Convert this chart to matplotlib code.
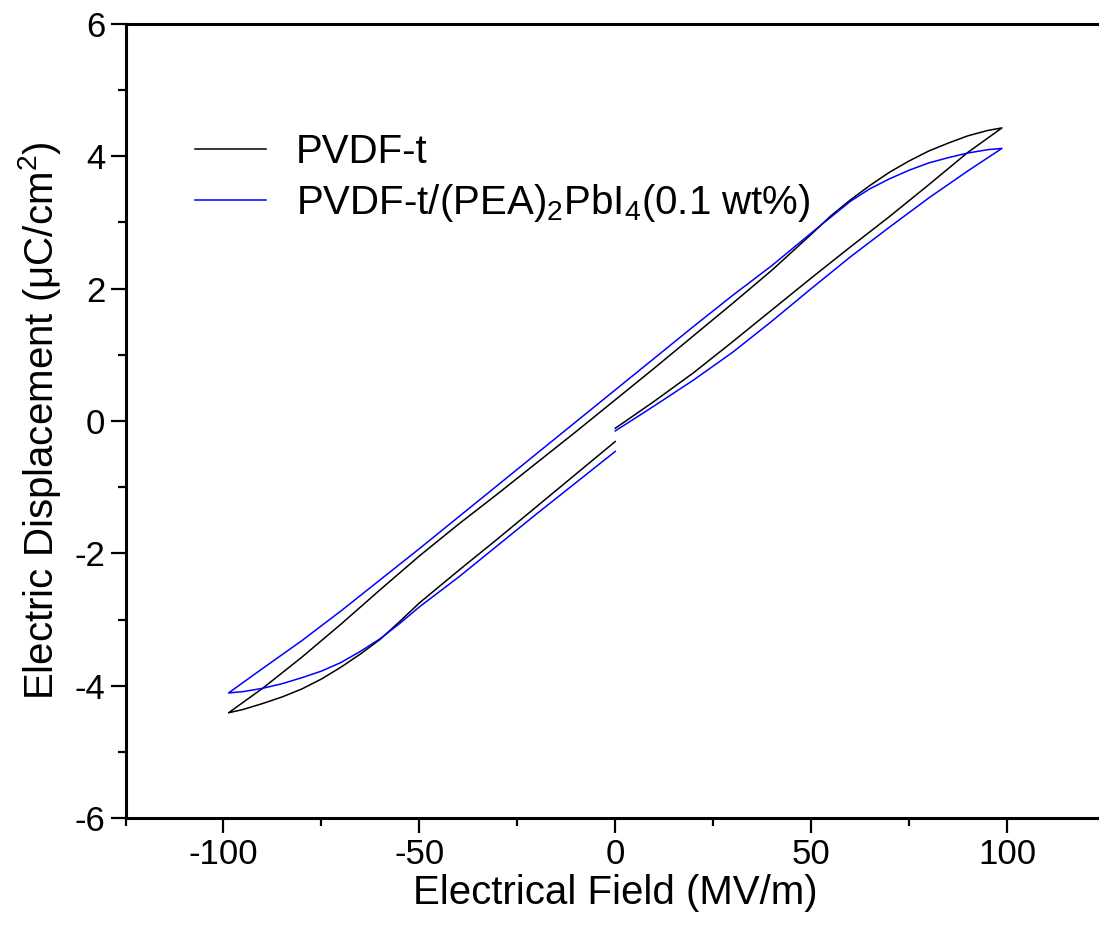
import matplotlib
matplotlib.use("Agg")
import matplotlib.pyplot as plt
from matplotlib.ticker import MultipleLocator

# ---- data ----
# PVDF-t: initial rise, descending branch, returning branch
black_up_x = [0, 10, 20, 30, 40, 50, 60, 70, 80, 90, 98.7]
black_up_y = [-0.11, 0.30, 0.73, 1.20, 1.68, 2.16, 2.63, 3.09, 3.57, 4.06, 4.43]
black_down_x = [98.7, 95, 90, 85, 80, 75, 70, 65, 60, 55, 50, 40, 30, 20, 10, 0,
                -10, -20, -30, -40, -50, -60, -70, -80, -90, -98.7]
black_down_y = [4.43, 4.39, 4.31, 4.20, 4.08, 3.93, 3.76, 3.56, 3.34, 3.10, 2.82,
                2.28, 1.78, 1.29, 0.80, 0.32, -0.16, -0.63, -1.10, -1.56, -2.04,
                -2.55, -3.07, -3.57, -4.04, -4.41]
black_ret_x = [-98.7, -95, -90, -85, -80, -75, -70, -65, -60, -55, -50, -40, -30,
               -20, -10, 0]
black_ret_y = [-4.41, -4.36, -4.27, -4.17, -4.05, -3.90, -3.72, -3.52, -3.30, -3.03,
               -2.75, -2.26, -1.78, -1.29, -0.80, -0.31]

# PVDF-t/(PEA)2PbI4 (0.1 wt%)
blue_up_x = [0, 10, 20, 30, 40, 50, 60, 70, 80, 90, 98.7]
blue_up_y = [-0.15, 0.23, 0.62, 1.04, 1.51, 2.00, 2.48, 2.93, 3.37, 3.78, 4.12]
blue_down_x = [98.7, 95, 90, 85, 80, 75, 70, 65, 60, 55, 50, 40, 30, 20, 10, 0,
               -10, -20, -30, -40, -50, -60, -70, -80, -90, -98.7]
blue_down_y = [4.12, 4.10, 4.05, 3.98, 3.90, 3.79, 3.66, 3.51, 3.32, 3.08, 2.84,
               2.35, 1.90, 1.43, 0.95, 0.47, -0.01, -0.49, -0.97, -1.45, -1.93,
               -2.40, -2.87, -3.32, -3.74, -4.11]
blue_ret_x = [-98.7, -95, -90, -85, -80, -75, -70, -65, -60, -55, -50, -40, -30,
              -20, -10, 0]
blue_ret_y = [-4.11, -4.09, -4.04, -3.97, -3.88, -3.78, -3.65, -3.48, -3.29, -3.06,
              -2.81, -2.36, -1.88, -1.40, -0.93, -0.46]

labels = ["PVDF-t", "PVDF-t/(PEA)$_2$PbI$_4$(0.1 wt%)"]
colors = ["black", "#0000ff"]

x_major = [-100, -50, 0, 50, 100]
y_major = [-6, -4, -2, 0, 2, 4, 6]

# ---- fonts ----
fam = "Liberation Sans"
plt.rcParams["font.family"] = [fam, "DejaVu Sans"]
plt.rcParams["mathtext.fontset"] = "custom"
plt.rcParams["mathtext.rm"] = fam
plt.rcParams["mathtext.it"] = fam
plt.rcParams["mathtext.default"] = "regular"
plt.rcParams["axes.unicode_minus"] = False

fig = plt.figure(figsize=(10.99, 9.26), dpi=100)
ax = fig.add_axes([125.5 / 1099, (926 - 818) / 926, (1105 - 125.5) / 1099, (818 - 24) / 926])

lw = 1.1
ax.plot(black_up_x + black_down_x[1:] + black_ret_x[1:],
        black_up_y + black_down_y[1:] + black_ret_y[1:],
        color=colors[0], lw=lw, label=labels[0])
ax.plot(blue_up_x + blue_down_x[1:] + blue_ret_x[1:],
        blue_up_y + blue_down_y[1:] + blue_ret_y[1:],
        color=colors[1], lw=lw, label=labels[1])

ax.set_xlim(-125, 125)
ax.set_ylim(-6, 6)
ax.set_xticks(x_major)
ax.set_yticks(y_major)
ax.xaxis.set_minor_locator(MultipleLocator(25))
ax.yaxis.set_minor_locator(MultipleLocator(1))
ax.tick_params(which="both", direction="out", width=1.6, top=False, right=False,
               labelsize=25)
ax.tick_params(which="major", length=11)
ax.tick_params(which="minor", length=6)
for s in ax.spines.values():
    s.set_linewidth(2.2)

ax.set_xlabel("Electrical Field (MV/m)", fontsize=29, labelpad=2)
ax.set_ylabel("Electric Displacement (μC/cm$^2$)", fontsize=29, labelpad=8)

leg = ax.legend(loc="upper left", bbox_to_anchor=(0.055, 0.883), frameon=False,
                fontsize=29, handlelength=1.75, handletextpad=0.75,
                labelspacing=0.27, borderaxespad=0)

fig.savefig("out.png", dpi=100)
